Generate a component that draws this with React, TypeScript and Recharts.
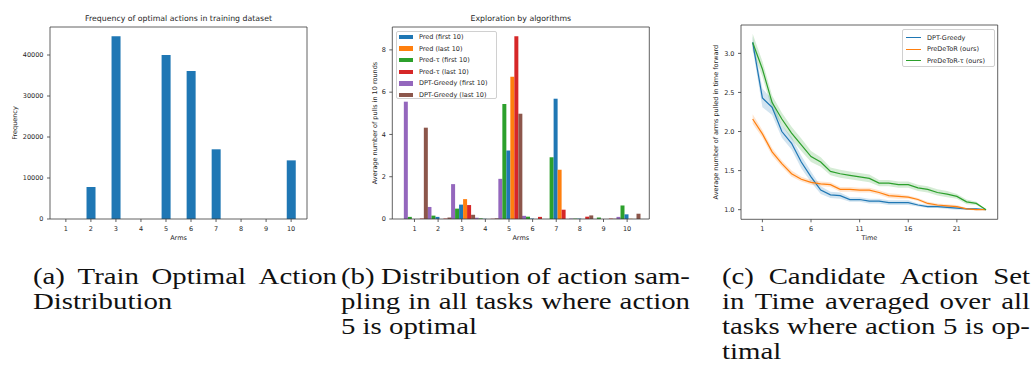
import { BarChart, Bar, ComposedChart, Line, Area, XAxis, YAxis } from 'recharts'

// arms shared by the two bar panels
const ARMS = ['1', '2', '3', '4', '5', '6', '7', '8', '9', '10']

// (a) how often each arm is optimal in the training set
const TRAIN_FREQ = [0, 7800, 44600, 0, 40000, 36100, 17000, 0, 0, 14300]
const FREQ_TICKS = [0, 10000, 20000, 30000, 40000]

// (b) average pulls per arm within 10 rounds
const PRED_FIRST = [0, 0.1, 0.68, 0.01, 3.24, 0.02, 5.69, 0.02, 0, 0.22]
const PRED_LAST = [0, 0, 0.94, 0, 6.73, 0, 2.33, 0, 0, 0.01]
const PRED_TAU_FIRST = [0.1, 0.16, 0.49, 0.03, 5.44, 0.11, 2.92, 0.02, 0.07, 0.64]
const PRED_TAU_LAST = [0.02, 0.02, 0.66, 0.01, 8.65, 0.1, 0.44, 0.11, 0.02, 0]
const DPT_FIRST = [5.55, 0.57, 1.65, 0.06, 1.9, 0.15, 0, 0.02, 0, 0.1]
const DPT_LAST = [4.32, 0.07, 0.2, 0.03, 4.98, 0, 0, 0.17, 0.01, 0.25]
const PULL_TICKS = [0, 2, 4, 6, 8]

// (c) candidate set size over time: mean and half-width of the band
const TIME = [0, 1, 2, 3, 4, 5, 6, 7, 8, 9, 10, 11, 12, 13, 14, 15, 16, 17, 18, 19, 20, 21, 22, 23, 24]
const DPT_GREEDY = [3.14, 2.43, 2.31, 2.0, 1.85, 1.61, 1.42, 1.25, 1.19, 1.18, 1.13, 1.13, 1.11, 1.11, 1.09, 1.09, 1.09, 1.06, 1.04, 1.04, 1.03, 1.02, 1.01, 1.01, 1.0]
const PREDETOR = [2.16, 1.97, 1.74, 1.59, 1.46, 1.39, 1.35, 1.33, 1.32, 1.26, 1.26, 1.25, 1.25, 1.22, 1.18, 1.17, 1.16, 1.13, 1.08, 1.06, 1.05, 1.04, 1.01, 1.0, 1.0]
const PREDETOR_TAU = [3.14, 2.8, 2.37, 2.16, 1.98, 1.83, 1.68, 1.61, 1.49, 1.46, 1.44, 1.42, 1.4, 1.34, 1.34, 1.32, 1.32, 1.28, 1.26, 1.22, 1.2, 1.17, 1.1, 1.08, 1.0]
const DPT_GREEDY_ERR = [0.08, 0.12, 0.1, 0.08, 0.08, 0.08, 0.07, 0.05, 0.04, 0.04, 0.03, 0.03, 0.03, 0.03, 0.03, 0.03, 0.03, 0.02, 0.02, 0.02, 0.02, 0.02, 0.01, 0.01, 0]
const PREDETOR_ERR = [0.06, 0.05, 0.05, 0.04, 0.04, 0.03, 0.03, 0.03, 0.03, 0.03, 0.03, 0.03, 0.03, 0.03, 0.03, 0.03, 0.02, 0.02, 0.02, 0.02, 0.02, 0.02, 0.01, 0.01, 0]
const PREDETOR_TAU_ERR = [0.11, 0.1, 0.09, 0.08, 0.08, 0.08, 0.07, 0.06, 0.05, 0.05, 0.05, 0.05, 0.05, 0.04, 0.04, 0.04, 0.04, 0.04, 0.04, 0.04, 0.04, 0.03, 0.03, 0.02, 0]
const TIME_TICKS = [1, 6, 11, 16, 21]
const SIZE_TICKS = [1.0, 1.5, 2.0, 2.5, 3.0]

const BLUE = '#1f77b4'
const ORANGE = '#ff7f0e'
const GREEN = '#2ca02c'
const RED = '#d62728'
const PURPLE = '#9467bd'
const BROWN = '#8c564b'

const FONT = '"DejaVu Sans", sans-serif'
const SERIF = '"Liberation Serif", serif'
const INK = '#262626'
const SPINE = '#3a3a3a'
const TICK = { fontSize: 6.5, fill: INK, fontFamily: FONT }
const AXIS_LABEL = { fontSize: 6.5, fill: INK, fontFamily: FONT, textAnchor: 'middle' as const }
const SPINE_LINE = { stroke: SPINE, strokeWidth: 0.8 }

// bars inside each arm group, left to right
const PULL_SERIES = [
  { key: 'dptFirst', values: DPT_FIRST, color: PURPLE },
  { key: 'predTauFirst', values: PRED_TAU_FIRST, color: GREEN },
  { key: 'predFirst', values: PRED_FIRST, color: BLUE },
  { key: 'predLast', values: PRED_LAST, color: ORANGE },
  { key: 'predTauLast', values: PRED_TAU_LAST, color: RED },
  { key: 'dptLast', values: DPT_LAST, color: BROWN },
]

const PULL_LEGEND = [
  { name: 'Pred (first 10)', color: BLUE },
  { name: 'Pred (last 10)', color: ORANGE },
  { name: 'Pred-τ (first 10)', color: GREEN },
  { name: 'Pred-τ (last 10)', color: RED },
  { name: 'DPT-Greedy (first 10)', color: PURPLE },
  { name: 'DPT-Greedy (last 10)', color: BROWN },
]

const SIZE_LEGEND = [
  { name: 'DPT-Greedy', color: BLUE },
  { name: 'PreDeToR (ours)', color: ORANGE },
  { name: 'PreDeToR-τ (ours)', color: GREEN },
]

const trainData = ARMS.map((arm, i) => ({ arm, freq: TRAIN_FREQ[i] }))

const pullData = ARMS.map((arm, i) => {
  const row: Record<string, string | number> = { arm }
  PULL_SERIES.forEach((s) => (row[s.key] = s.values[i]))
  return row
})

const sizeData = TIME.map((t, i) => ({
  t,
  dpt: DPT_GREEDY[i],
  pred: PREDETOR[i],
  predTau: PREDETOR_TAU[i],
  dptBand: [DPT_GREEDY[i] - DPT_GREEDY_ERR[i], DPT_GREEDY[i] + DPT_GREEDY_ERR[i]],
  predBand: [PREDETOR[i] - PREDETOR_ERR[i], PREDETOR[i] + PREDETOR_ERR[i]],
  predTauBand: [PREDETOR_TAU[i] - PREDETOR_TAU_ERR[i], PREDETOR_TAU[i] + PREDETOR_TAU_ERR[i]],
}))

// matplotlib-style 5% margins
const bandValues = sizeData.flatMap((d) => [...d.dptBand, ...d.predBand, ...d.predTauBand])
const sizeMin = Math.min(...bandValues)
const sizeMax = Math.max(...bandValues)
const sizePad = (sizeMax - sizeMin) * 0.05
const timePad = (TIME[TIME.length - 1] - TIME[0]) * 0.05

const withMargin = (max: number) => max * 1.05

// top and right spines: 1px-thick dummy axes (recharts skips axes of zero size)
function topSpine() {
  return <XAxis xAxisId="top" orientation="top" height={1} tick={false} tickLine={false} axisLine={SPINE_LINE} />
}
function rightSpine() {
  return <YAxis yAxisId="right" orientation="right" width={1} tick={false} tickLine={false} axisLine={SPINE_LINE} />
}

function Title({ left, width, text }: { left: number; width: number; text: string }) {
  return (
    <div
      style={{
        position: 'absolute',
        left,
        width,
        top: 14,
        textAlign: 'center',
        fontFamily: FONT,
        fontSize: 7.8,
        lineHeight: '10px',
        color: INK,
        whiteSpace: 'nowrap',
      }}
    >
      {text}
    </div>
  )
}

function Caption({ left, width, lines }: { left: number; width: number; lines: { text: string; justify?: boolean }[] }) {
  const stretch = 1.2
  return (
    <div
      style={{
        position: 'absolute',
        left,
        top: 263.7,
        width: width / stretch,
        transform: `scaleX(${stretch})`,
        transformOrigin: 'left top',
        fontFamily: SERIF,
        fontSize: 24,
        lineHeight: '25px',
        color: '#111',
      }}
    >
      {lines.map((line, i) =>
        line.justify ? (
          <div key={i} style={{ display: 'flex', justifyContent: 'space-between', height: 25, whiteSpace: 'nowrap' }}>
            {line.text.split(' ').map((w, j) => (
              <span key={j}>{w}</span>
            ))}
          </div>
        ) : (
          <div key={i} style={{ height: 25, whiteSpace: 'nowrap' }}>
            {line.text}
          </div>
        ),
      )}
    </div>
  )
}

function TrainPanel() {
  return (
    <div style={{ position: 'absolute', left: 0, top: 0, width: 340, height: 250 }}>
      <Title left={50} width={257} text="Frequency of optimal actions in training dataset" />
      <BarChart width={340} height={250} data={trainData} margin={{ top: 26, right: 32, bottom: 0, left: 0 }} barCategoryGap="32.5%">
        <XAxis
          dataKey="arm"
          interval={0}
          height={31}
          padding={{ left: 3.35, right: 3.35 }}
          tick={TICK}
          tickSize={3}
          tickMargin={4.4}
          axisLine={SPINE_LINE}
          tickLine={SPINE_LINE}
          label={{ value: 'Arms', position: 'insideBottom', offset: 10, style: AXIS_LABEL }}
        />
        {topSpine()}
        <YAxis
          width={50}
          domain={[0, withMargin]}
          ticks={FREQ_TICKS}
          tick={TICK}
          tickSize={3}
          tickMargin={3.5}
          axisLine={SPINE_LINE}
          tickLine={SPINE_LINE}
          label={{ value: 'Frequency', angle: -90, position: 'insideLeft', offset: 14.7, style: AXIS_LABEL }}
        />
        {rightSpine()}
        <Bar dataKey="freq" fill={BLUE} isAnimationActive={false} />
      </BarChart>
    </div>
  )
}

function PullPanel() {
  return (
    <div style={{ position: 'absolute', left: 340, top: 0, width: 360, height: 250 }}>
      <Title left={52.3} width={257} text="Exploration by algorithms" />
      <BarChart width={360} height={250} data={pullData} margin={{ top: 26, right: 49.7, bottom: 0, left: 0 }} barCategoryGap="5%" barGap={0}>
        <XAxis
          dataKey="arm"
          interval={0}
          height={31}
          padding={{ left: 10.35, right: 10.35 }}
          tick={TICK}
          tickSize={3}
          tickMargin={4.4}
          axisLine={SPINE_LINE}
          tickLine={SPINE_LINE}
          label={{ value: 'Arms', position: 'insideBottom', offset: 10, style: AXIS_LABEL }}
        />
        {topSpine()}
        <YAxis
          width={52.3}
          domain={[0, withMargin]}
          ticks={PULL_TICKS}
          tick={TICK}
          tickSize={3}
          tickMargin={3.5}
          axisLine={SPINE_LINE}
          tickLine={SPINE_LINE}
          label={{ value: 'Average number of pulls in 10 rounds', angle: -90, position: 'insideLeft', offset: 34.3, style: AXIS_LABEL }}
        />
        {rightSpine()}
        {PULL_SERIES.map((s) => (
          <Bar key={s.key} dataKey={s.key} fill={s.color} isAnimationActive={false} />
        ))}
      </BarChart>
      <div
        style={{
          position: 'absolute',
          left: 55.7,
          top: 31,
          width: 101.6,
          height: 68,
          boxSizing: 'border-box',
          border: '0.8px solid #d0d0d0',
          borderRadius: 2,
          background: 'rgba(255,255,255,0.8)',
          fontFamily: FONT,
          fontSize: 6.5,
          color: INK,
        }}
      >
        {PULL_LEGEND.map((item, i) => (
          <div key={item.name} style={{ position: 'absolute', left: 2.6, top: 1 + i * 11.6, height: 8, display: 'flex', alignItems: 'center', whiteSpace: 'nowrap' }}>
            <span style={{ display: 'inline-block', width: 14, height: 4.5, background: item.color, marginRight: 5.6 }} />
            <span>{item.name}</span>
          </div>
        ))}
      </div>
    </div>
  )
}

function SizePanel() {
  return (
    <div style={{ position: 'absolute', left: 700, top: 0, width: 336, height: 250 }}>
      <ComposedChart width={336} height={250} data={sizeData} margin={{ top: 24, right: 37.3, bottom: 0, left: 0 }}>
        <XAxis
          dataKey="t"
          type="number"
          domain={[TIME[0] - timePad, TIME[TIME.length - 1] + timePad]}
          ticks={TIME_TICKS}
          height={30.7}
          tick={TICK}
          tickSize={3}
          tickMargin={4.4}
          axisLine={SPINE_LINE}
          tickLine={SPINE_LINE}
          label={{ value: 'Time', position: 'insideBottom', offset: 10, style: AXIS_LABEL }}
        />
        {topSpine()}
        <YAxis
          width={41}
          type="number"
          domain={[sizeMin - sizePad, sizeMax + sizePad]}
          ticks={SIZE_TICKS}
          tickFormatter={(v: number) => v.toFixed(1)}
          tick={TICK}
          tickSize={3}
          tickMargin={3.5}
          axisLine={SPINE_LINE}
          tickLine={SPINE_LINE}
          label={{ value: 'Average number of arms pulled in time forward', angle: -90, position: 'insideLeft', offset: 16, style: AXIS_LABEL }}
        />
        {rightSpine()}
        <Area dataKey="dptBand" type="linear" stroke="none" fill={BLUE} fillOpacity={0.2} isAnimationActive={false} activeDot={false} />
        <Area dataKey="predBand" type="linear" stroke="none" fill={ORANGE} fillOpacity={0.2} isAnimationActive={false} activeDot={false} />
        <Area dataKey="predTauBand" type="linear" stroke="none" fill={GREEN} fillOpacity={0.2} isAnimationActive={false} activeDot={false} />
        <Line dataKey="dpt" type="linear" stroke={BLUE} strokeWidth={1.2} dot={false} activeDot={false} isAnimationActive={false} />
        <Line dataKey="pred" type="linear" stroke={ORANGE} strokeWidth={1.2} dot={false} activeDot={false} isAnimationActive={false} />
        <Line dataKey="predTau" type="linear" stroke={GREEN} strokeWidth={1.2} dot={false} activeDot={false} isAnimationActive={false} />
      </ComposedChart>
      <div
        style={{
          position: 'absolute',
          left: 202.3,
          top: 29.3,
          width: 92.7,
          height: 37.4,
          boxSizing: 'border-box',
          border: '0.8px solid #d0d0d0',
          borderRadius: 2,
          background: 'rgba(255,255,255,0.8)',
          fontFamily: FONT,
          fontSize: 6.5,
          color: INK,
        }}
      >
        {SIZE_LEGEND.map((item, i) => (
          <div key={item.name} style={{ position: 'absolute', left: 2.7, top: 3.4 + i * 11.5, height: 8, display: 'flex', alignItems: 'center', whiteSpace: 'nowrap' }}>
            <span style={{ display: 'inline-block', width: 15, height: 1.2, background: item.color, marginRight: 6 }} />
            <span>{item.name}</span>
          </div>
        ))}
      </div>
    </div>
  )
}

export default function App() {
  return (
    <div style={{ position: 'absolute', left: 0, top: 0, width: 1036, height: 375, background: '#fff', overflow: 'hidden' }}>
      <TrainPanel />
      <PullPanel />
      <SizePanel />
      <Caption left={33} width={304} lines={[{ text: '(a) Train Optimal Action', justify: true }, { text: 'Distribution' }]} />
      <Caption
        left={341}
        width={349}
        lines={[
          { text: '(b) Distribution of action sam-', justify: true },
          { text: 'pling in all tasks where action', justify: true },
          { text: '5 is optimal' },
        ]}
      />
      <Caption
        left={722}
        width={308}
        lines={[
          { text: '(c) Candidate Action Set', justify: true },
          { text: 'in Time averaged over all', justify: true },
          { text: 'tasks where action 5 is op-', justify: true },
          { text: 'timal' },
        ]}
      />
    </div>
  )
}
